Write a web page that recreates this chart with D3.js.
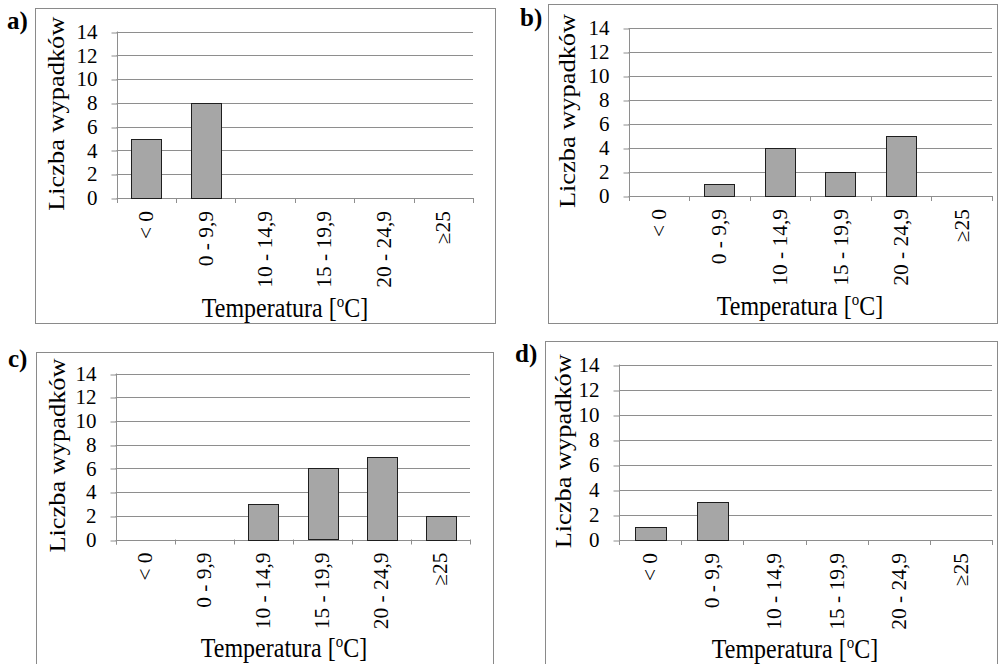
<!DOCTYPE html>
<html>
<head>
<meta charset="utf-8">
<script src="https://cdn.jsdelivr.net/npm/d3@7"></script>
<style>
  body { margin: 0; background: #fff; }
  svg { display: block; }
  text { font-family: "Liberation Serif", "Times New Roman", serif; }
</style>
</head>
<body>
<div id="chart"></div>
<script>
// dane: liczba wypadków w przedziałach temperatury
const categories = ["< 0", "0 - 9,9", "10 - 14,9", "15 - 19,9", "20 - 24,9", "≥25"];
const valuesA = [5, 8, 0, 0, 0, 0];
const valuesB = [0, 1, 4, 2, 5, 0];
const valuesC = [0, 0, 3, 6, 7, 2];
const valuesD = [1, 3, 0, 0, 0, 0];
const yTicks = [0, 2, 4, 6, 8, 10, 12, 14];
const yTitle = "Liczba wypadków";

// układ paneli (ramka, obszar wykresu, pozycje tekstów)
const panels = [
    { letter: "a)", values: valuesA, frame: [35, 8, 495, 323], plot: [116.5, 31.5, 473, 198],
      letterPos: [7, 29], ytx: 56, xtx: 285, xty: 317 },
    { letter: "b)", values: valuesB, frame: [548, 4, 997, 323], plot: [628.5, 28, 992, 196],
      letterPos: [520, 26], ytx: 567, xtx: 800, xty: 315 },
    { letter: "c)", values: valuesC, frame: [36, 352, 493, 670], plot: [115.5, 373.5, 470, 539.5],
      letterPos: [8, 367], ytx: 57, xtx: 284, xty: 657 },
    { letter: "d)", values: valuesD, frame: [545, 341, 997, 670], plot: [619, 364.5, 992, 540],
      letterPos: [515, 362], ytx: 563, xtx: 795, xty: 658 }
];

const serif = "'Liberation Serif', 'Times New Roman', serif";
const gridColor = "#8e8e8e";
const snap = v => Math.round(v) + 0.5;

function drawPanel(svg, p) {
    const g = svg.append("g").attr("font-family", serif);
    const [fx0, fy0, fx1, fy1] = p.frame;
    const [px0, py0, px1, py1] = p.plot;

    g.append("rect")
        .attr("x", fx0 + 0.5).attr("y", fy0 + 0.5)
        .attr("width", fx1 - fx0).attr("height", fy1 - fy0)
        .attr("fill", "#fff").attr("stroke", "#8a8a8a");

    const x = d3.scaleBand().domain(categories).range([px0, px1]);
    const y = d3.scaleLinear().domain([0, 14]).range([py1, py0]);

    // linie siatki
    g.selectAll(".grid").data(yTicks.filter(t => t > 0)).join("line")
        .attr("x1", px0).attr("x2", px1)
        .attr("y1", d => snap(y(d))).attr("y2", d => snap(y(d)))
        .attr("stroke", gridColor);

    // oś Y
    const yAxis = d3.axisLeft(y).tickValues(yTicks).tickSize(6).tickPadding(14).tickSizeOuter(0);
    const ya = g.append("g").attr("transform", `translate(${snap(px0)},0)`).call(yAxis);
    ya.attr("font-family", serif).attr("font-size", 21);
    ya.select(".domain").remove();
    ya.selectAll(".tick line").attr("stroke", gridColor)
        .attr("transform", d => `translate(0,${snap(y(d)) - y(d)})`);
    ya.selectAll(".tick text").attr("fill", "#000").attr("font-family", serif);
    g.append("line")
        .attr("x1", snap(px0)).attr("x2", snap(px0))
        .attr("y1", py0).attr("y2", py1 + 5)
        .attr("stroke", gridColor);

    // oś X
    g.append("line")
        .attr("x1", px0).attr("x2", px1)
        .attr("y1", snap(y(0))).attr("y2", snap(y(0)))
        .attr("stroke", gridColor);
    const bounds = categories.map(c => x(c)).concat([px1]);
    g.selectAll(".xtick").data(bounds).join("line")
        .attr("x1", d => snap(d)).attr("x2", d => snap(d))
        .attr("y1", py1).attr("y2", py1 + 5)
        .attr("stroke", gridColor);

    // słupki
    const bars = categories.map((c, i) => ({ c, v: p.values[i] })).filter(d => d.v > 0);
    g.selectAll(".bar").data(bars).join("rect")
        .attr("x", d => snap(x(d.c) + x.bandwidth() * 0.25))
        .attr("width", Math.round(x.bandwidth() * 0.5))
        .attr("y", d => snap(y(d.v)))
        .attr("height", d => Math.round(y(0) - y(d.v)))
        .attr("fill", "#a6a6a6")
        .attr("stroke", "#1e1e1e");

    // etykiety kategorii
    g.selectAll(".cat").data(categories).join("text")
        .attr("transform", d => `translate(${x(d) + x.bandwidth() / 2},${py1 + 13}) rotate(-90) scale(1.07,1)`)
        .attr("text-anchor", "end")
        .attr("dy", "0.35em")
        .attr("font-size", 20)
        .text(d => d);

    // tytuł osi Y
    g.append("text")
        .attr("transform", `translate(${p.ytx},${(py0 + py1) / 2 - 1}) rotate(-90) scale(1.1,1)`)
        .attr("text-anchor", "middle")
        .attr("dy", "0.35em")
        .attr("font-size", 24)
        .text(yTitle);

    // tytuł osi X
    const xt = g.append("text")
        .attr("transform", `translate(${p.xtx},${p.xty}) scale(1,1.12)`)
        .attr("text-anchor", "middle")
        .attr("font-size", 24);
    xt.append("tspan").text("Temperatura [");
    xt.append("tspan").attr("font-size", 15).attr("dy", -9).text("o");
    xt.append("tspan").attr("dy", 9).text("C]");

    // litera panelu
    g.append("text")
        .attr("x", p.letterPos[0]).attr("y", p.letterPos[1])
        .attr("font-size", 25)
        .attr("font-weight", "bold")
        .text(p.letter);
}

window.onload = function() {
    const svg = d3.select("#chart").append("svg")
        .attr("width", 998)
        .attr("height", 664);
    panels.forEach(p => drawPanel(svg, p));
};
</script>
</body>
</html>
